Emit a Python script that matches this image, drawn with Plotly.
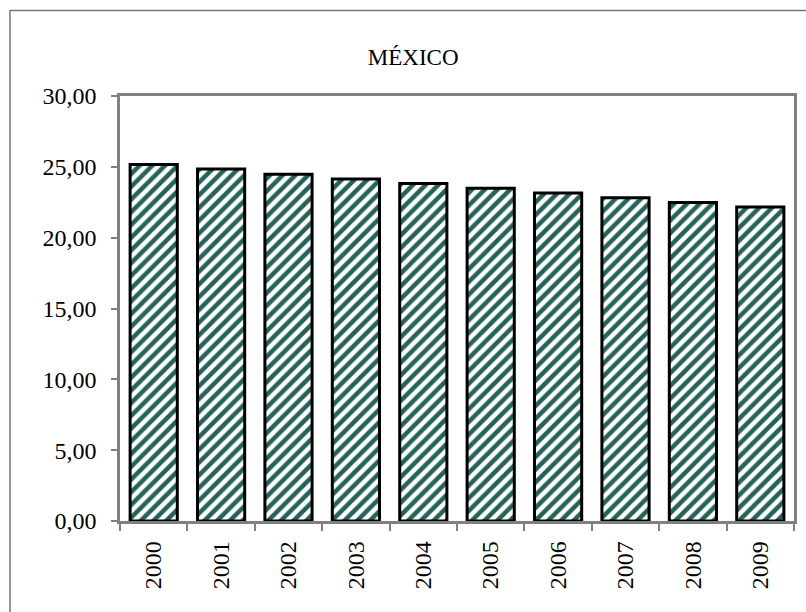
import plotly.graph_objects as go

years = ["2000", "2001", "2002", "2003", "2004", "2005", "2006", "2007", "2008", "2009"]
values = [25.17, 24.84, 24.47, 24.14, 23.82, 23.48, 23.15, 22.81, 22.48, 22.16]
y_ticks = [0, 5, 10, 15, 20, 25, 30]

W, H = 806, 612
L, R, T, B = 120, 9, 96, 91
pw, ph = W - L - R, H - T - B

def px_x(p):
    return (p - L) / pw

def px_y(p):
    return (H - B - p) / ph

fig = go.Figure(go.Bar(
    x=years, y=values,
    width=0.7,
    marker=dict(
        color="white",
        line=dict(color="black", width=3),
        pattern=dict(shape="/", fgcolor="#25635A", bgcolor="white", fgopacity=1,
                     fillmode="replace", size=9, solidity=0.5),
    ),
))

font = '"Liberation Serif", "Times New Roman", serif'
fig.update_layout(
    width=W, height=H,
    margin=dict(l=L, r=R, t=T, b=B),
    paper_bgcolor="white", plot_bgcolor="white",
    separators=",.",
    showlegend=False,
    font=dict(family=font, size=23, color="black"),
    title=dict(text="MÉXICO", x=0.435, xref="paper", xanchor="center",
               y=1 - 57 / H, yanchor="middle", font=dict(family=font, size=23)),
    xaxis=dict(
        type="category", tickangle=-90, tickson="boundaries",
        ticks="outside", ticklen=7, tickcolor="#808080", tickwidth=1.5,
        showline=True, linecolor="#808080", linewidth=2.5, mirror=True,
        showgrid=False, tickfont=dict(family=font, size=24),
        ticklabelstandoff=8,
    ),
    yaxis=dict(
        range=[0, 30], tickvals=y_ticks, tickformat=".2f",
        ticks="outside", ticklen=6, tickcolor="#808080", tickwidth=1.5,
        showline=True, linecolor="#808080", linewidth=2.5, mirror=True,
        showgrid=False, zeroline=False, tickfont=dict(family=font, size=24),
        ticklabelstandoff=10,
    ),
    shapes=[
        dict(type="line", xref="paper", yref="paper",
             x0=px_x(9.5), x1=px_x(9.5), y0=px_y(10), y1=px_y(620),
             line=dict(color="#777777", width=1.5)),
        dict(type="line", xref="paper", yref="paper",
             x0=px_x(9.5), x1=px_x(820), y0=px_y(10.5), y1=px_y(10.5),
             line=dict(color="#777777", width=1.5)),
    ],
)

fig.write_html("out.html", config={"displayModeBar": False},
               post_script="document.body.style.margin='0';document.body.style.padding='0';")
